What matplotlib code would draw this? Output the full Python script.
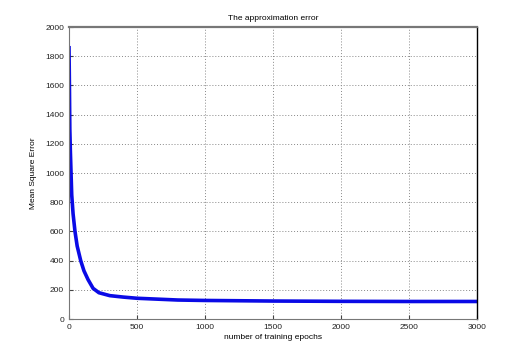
import matplotlib
matplotlib.use("Agg")
import matplotlib.pyplot as plt

# training error
EPOCHS = [0, 3, 6, 10, 15, 20, 30, 44, 60, 86, 110, 140, 177, 220, 300,
          400, 500, 800, 1000, 1500, 2000, 2500, 3000]
MSE = [1870, 1600, 1300, 1150, 1000, 850, 720, 600, 500, 400, 330, 270, 210,
       180, 160, 150, 142, 130, 127, 123, 121, 120, 120]

XTICKS = [0, 500, 1000, 1500, 2000, 2500, 3000]
YTICKS = [0, 200, 400, 600, 800, 1000, 1200, 1400, 1600, 1800, 2000]

plt.rcParams["font.family"] = ["Liberation Sans", "DejaVu Sans"]

fig = plt.figure(figsize=(5.27, 3.58), dpi=100)
ax = fig.add_axes([69 / 527, 1 - 319 / 358, 408 / 527, 292 / 358])

ax.plot(EPOCHS, MSE, color="#0a0ae6", lw=2.6, solid_capstyle="butt")

ax.set_xlim(0, 3000)
ax.set_ylim(0, 2000)
ax.set_xticks(XTICKS)
ax.set_yticks(YTICKS)
ax.tick_params(direction="in", labelsize=6, length=3, width=0.8, colors="#444444",
               labelcolor="#222222")
ax.grid(True, linestyle=(0, (1, 2)), color="#888888", linewidth=0.7)

for side in ["top", "bottom", "left"]:
    ax.spines[side].set_color("#777777")
ax.spines["top"].set_linewidth(1.6)
ax.spines["right"].set_color("black")
ax.spines["right"].set_linewidth(1.0)

ax.set_title("The approximation error", fontsize=6, pad=5)
ax.set_xlabel("number of training epochs", fontsize=6, labelpad=2)
ax.set_ylabel("Mean Square Error", fontsize=6, labelpad=6)

fig.savefig("out.png", dpi=100)
